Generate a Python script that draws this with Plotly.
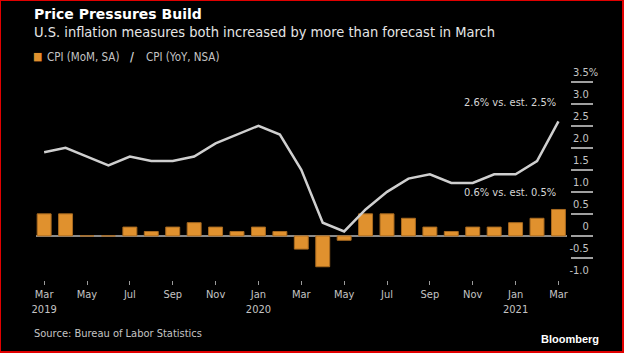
import plotly.graph_objects as go

# ---------------- data ----------------
months = ["2019-03", "2019-04", "2019-05", "2019-06", "2019-07", "2019-08", "2019-09",
          "2019-10", "2019-11", "2019-12", "2020-01", "2020-02", "2020-03", "2020-04",
          "2020-05", "2020-06", "2020-07", "2020-08", "2020-09", "2020-10", "2020-11",
          "2020-12", "2021-01", "2021-02", "2021-03"]
cpi_mom = [0.5, 0.5, 0.0, 0.0, 0.2, 0.1, 0.2, 0.3, 0.2, 0.1, 0.2, 0.1,
           -0.3, -0.7, -0.1, 0.5, 0.5, 0.4, 0.2, 0.1, 0.2, 0.2, 0.3, 0.4, 0.6]
cpi_yoy = [1.9, 2.0, 1.8, 1.6, 1.8, 1.7, 1.7, 1.8, 2.1, 2.3, 2.5, 2.3,
           1.5, 0.3, 0.1, 0.6, 1.0, 1.3, 1.4, 1.2, 1.2, 1.4, 1.4, 1.7, 2.6]
x_tick_vals = months[::2]
x_tick_text = ["Mar<br>2019", "May", "Jul", "Sep", "Nov", "Jan<br>2020", "Mar",
               "May", "Jul", "Sep", "Nov", "Jan<br>2021", "Mar"]
y_tick_vals = [-1.0, -0.5, 0, 0.5, 1.0, 1.5, 2.0, 2.5, 3.0, 3.5]
PAD = "\u00a0\u00a0\u00a0"
y_tick_text = ["-1.0" + PAD, "-0.5" + PAD, "0" + PAD, "0.5" + PAD, "1.0" + PAD,
               "1.5" + PAD, "2.0" + PAD, "2.5" + PAD, "3.0" + PAD, "3.5%"]

# ---------------- layout helpers ----------------
W, H = 624, 353
L, R, T, B = 36, 31, 62, 73
PW, PH = W - L - R, H - T - B
PX_PER_UNIT = 198.3 / 4.5          # vertical scale
Y_MIN = -1.001
Y_MAX = -1.0 + PH / PX_PER_UNIT


def px(x):
    return (x - L) / PW


def py(y):
    return (H - B - y) / PH


FONT = "DejaVu Sans Condensed, DejaVu Sans, sans-serif"
ORANGE = "#e0912e"
LINEC = "#cfcfcf"
TXT = "#c4c4c4"

fig = go.Figure()
fig.add_trace(go.Bar(x=months, y=cpi_mom, name="CPI (MoM, SA)", width=0.65,
                     marker=dict(color=ORANGE, line=dict(color="#a86a20", width=1)),
                     showlegend=False))
fig.add_trace(go.Scatter(x=months, y=cpi_yoy, name="CPI (YoY, NSA)", mode="lines",
                         line=dict(color=LINEC, width=2.5), showlegend=False))

annotations = [
    dict(text="<b>Price Pressures Build</b>", x=px(32), y=py(14), xref="paper", yref="paper",
         xanchor="left", yanchor="middle", showarrow=False,
         font=dict(family="DejaVu Sans, sans-serif", size=14, color="#ffffff")),
    dict(text="U.S. inflation measures both increased by more than forecast in March",
         x=px(32), y=py(31.5), xref="paper", yref="paper", xanchor="left", yanchor="middle",
         showarrow=False, font=dict(family=FONT, size=14.5, color="#e6e6e6")),
    dict(text="■", x=px(31), y=py(56.5), xref="paper", yref="paper", xanchor="left",
         yanchor="middle", showarrow=False, font=dict(family=FONT, size=11, color=ORANGE)),
    dict(text="CPI (MoM, SA)", x=px(45), y=py(56.5), xref="paper", yref="paper",
         xanchor="left", yanchor="middle", showarrow=False,
         font=dict(family=FONT, size=11.5, color=TXT)),
    dict(text="<b>/</b>", x=px(128), y=py(56.5), xref="paper", yref="paper",
         xanchor="left", yanchor="middle", showarrow=False,
         font=dict(family=FONT, size=12, color=LINEC)),
    dict(text="CPI (YoY, NSA)", x=px(144), y=py(56.5), xref="paper", yref="paper",
         xanchor="left", yanchor="middle", showarrow=False,
         font=dict(family=FONT, size=11.5, color=TXT)),
    dict(text="2.6% vs. est. 2.5%", x=months[-1], y=cpi_yoy[-1], xref="x", yref="y",
         xanchor="right", yanchor="middle", yshift=19, showarrow=False,
         font=dict(family=FONT, size=11, color="#d6d6d6")),
    dict(text="0.6% vs. est. 0.5%", x=months[-1], y=cpi_mom[-1], xref="x", yref="y",
         xanchor="right", yanchor="middle", yshift=16.5, showarrow=False,
         font=dict(family=FONT, size=11, color="#d6d6d6")),
    dict(text="Source: Bureau of Labor Statistics", x=px(31.5), y=py(333.5), xref="paper",
         yref="paper", xanchor="left", yanchor="middle", showarrow=False,
         font=dict(family=FONT, size=11, color=TXT)),
    dict(text="<b>Bloomberg</b>", x=px(601), y=py(338.5), xref="paper", yref="paper",
         xanchor="right", yanchor="middle", showarrow=False,
         font=dict(family="Liberation Sans, Arial, sans-serif", size=11, color="#ffffff")),
]

fig.update_layout(
    width=W, height=H,
    margin=dict(l=L, r=R, t=T, b=B, pad=0),
    paper_bgcolor="#000000", plot_bgcolor="#000000",
    font=dict(family=FONT, size=11, color=TXT),
    bargap=0.35,
    annotations=annotations,
    shapes=[dict(type="rect", xref="paper", yref="paper", x0=px(0), x1=px(623),
                 y0=py(352), y1=py(0), line=dict(color="#e00000", width=2))],
    xaxis=dict(type="category", range=[-0.38, 24.38], domain=[0, 530.6 / PW],
               tickmode="array", tickvals=x_tick_vals, ticktext=x_tick_text,
               ticks="outside", ticklen=4, tickwidth=1, tickcolor="#9a9a9a",
               showgrid=False, showline=False, zeroline=False,
               tickfont=dict(family=FONT, size=11, color=TXT)),
    yaxis=dict(range=[Y_MIN, Y_MAX], side="right", anchor="free", position=1,
               tickmode="array", tickvals=y_tick_vals, ticktext=y_tick_text,
               ticks="inside", ticklen=22, tickwidth=1.5, tickcolor="#a0a0a0",
               ticklabelposition="inside", ticklabelshift=-10, ticklabelstandoff=-28,
               showgrid=False, showline=False,
               zeroline=True, zerolinecolor="#8a8a8a", zerolinewidth=1.5,
               tickfont=dict(family=FONT, size=11, color=TXT)),
)

fig.write_html("out.html")
